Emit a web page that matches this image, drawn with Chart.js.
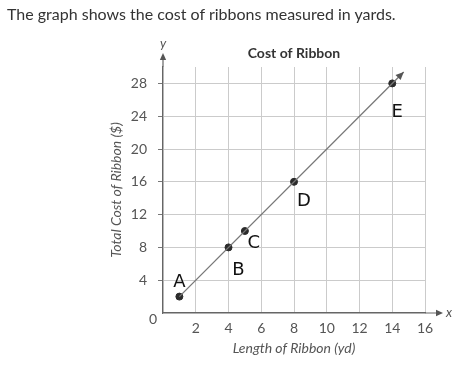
<!DOCTYPE html>
<html>
<head>
<meta charset="utf-8">
<title>Cost of Ribbon</title>
<script src="https://cdn.jsdelivr.net/npm/chart.js@4.4.1/dist/chart.umd.min.js"></script>
<style>
    html, body { margin: 0; padding: 0; background: #fff; }
    #wrap { position: relative; width: 467px; height: 370px; }
    #question {
        position: absolute; left: 7px; top: 4px;
        font: 16px Lato, "Open Sans", sans-serif; color: #333;
        white-space: nowrap;
    }
</style>
</head>
<body>
<div id="wrap">
    <canvas id="chart" width="467" height="370"></canvas>
    <div id="question">The graph shows the cost of ribbons measured in yards.</div>
</div>
<script>
// data
const pointNames = ['A', 'B', 'C', 'D', 'E'];
const lengthYd = [1, 4, 5, 8, 14];
const costDollars = [2, 8, 10, 16, 28];
// the ray drawn through the points (start, arrow tip)
const rayX = [1, 14.7];
const rayY = [2, 29.4];
// axis ticks
const xTicks = [0, 2, 4, 6, 8, 10, 12, 14, 16];
const yTicks = [0, 2, 4, 6, 8, 10, 12, 14, 16, 18, 20, 22, 24, 26, 28, 30];

const FONT = 'Lato, "Open Sans", sans-serif';
Chart.defaults.font.family = FONT;

// hand written letters, offset in px from their point
const letterOffset = { A: [0, -14], B: [10, 23], C: [9, 12], D: [10, 20], E: [5, 29] };

function arrowHead(ctx, x, y, angle, size) {
    ctx.save();
    ctx.translate(x, y);
    ctx.rotate(angle);
    ctx.beginPath();
    ctx.moveTo(0, 0);
    ctx.lineTo(-size, -size * 0.45);
    ctx.lineTo(-size, size * 0.45);
    ctx.closePath();
    ctx.fill();
    ctx.restore();
}

const decorPlugin = {
    id: 'decor',
    afterDatasetsDraw(chart) {
        const { ctx, chartArea: a, scales: { x, y } } = chart;
        ctx.save();

        // arrow at the end of the ray
        const x0 = x.getPixelForValue(rayX[0]), y0 = y.getPixelForValue(rayY[0]);
        const x1 = x.getPixelForValue(rayX[1]), y1 = y.getPixelForValue(rayY[1]);
        ctx.fillStyle = '#555';
        arrowHead(ctx, x1, y1, Math.atan2(y1 - y0, x1 - x0), 8);

        // axis extensions with arrows
        ctx.strokeStyle = '#666';
        ctx.fillStyle = '#555';
        ctx.lineWidth = 1.2;
        ctx.beginPath();
        ctx.moveTo(a.left, a.top);
        ctx.lineTo(a.left, a.top - 8);
        ctx.moveTo(a.right, a.bottom);
        ctx.lineTo(a.right + 12, a.bottom);
        ctx.stroke();
        arrowHead(ctx, a.left, a.top - 14, -Math.PI / 2, 7);
        arrowHead(ctx, a.right + 18, a.bottom, 0, 7);

        ctx.font = 'italic 13px ' + FONT;
        ctx.fillStyle = '#555';
        ctx.textAlign = 'center';
        ctx.textBaseline = 'middle';
        ctx.fillText('y', a.left, a.top - 23);
        ctx.fillText('x', a.right + 24, a.bottom);

        // shared origin label
        ctx.font = '14px ' + FONT;
        ctx.fillText('0', a.left - 10, a.bottom + 6);

        // chart title
        ctx.font = 'bold 14px ' + FONT;
        ctx.fillStyle = '#333';
        ctx.fillText('Cost of Ribbon', (a.left + a.right) / 2, a.top - 14);

        // letters next to the points
        ctx.font = '18px "DejaVu Sans", sans-serif';
        ctx.fillStyle = '#111';
        pointNames.forEach((name, i) => {
            const px = x.getPixelForValue(lengthYd[i]) + letterOffset[name][0];
            const py = y.getPixelForValue(costDollars[i]) + letterOffset[name][1];
            ctx.fillText(name, px, py);
        });
        ctx.restore();
    }
};

const ctx = document.getElementById('chart');
new Chart(ctx, {
    type: 'scatter',
    data: {
        datasets: [
            {
                label: 'ray',
                data: rayX.map((v, i) => ({ x: v, y: rayY[i] })),
                showLine: true,
                borderColor: '#777',
                borderWidth: 1.3,
                pointRadius: 0
            },
            {
                label: 'Cost',
                data: lengthYd.map((v, i) => ({ x: v, y: costDollars[i] })),
                pointRadius: 3.5,
                pointBackgroundColor: '#2b2b2b',
                pointBorderColor: '#2b2b2b'
            }
        ]
    },
    options: {
        responsive: false,
        animation: false,
        layout: { padding: { top: 67, right: 42, bottom: 0, left: 0 } },
        plugins: {
            legend: { display: false },
            tooltip: { enabled: false }
        },
        scales: {
            x: {
                type: 'linear',
                min: 0,
                max: 16,
                afterBuildTicks: s => { s.ticks = xTicks.map(v => ({ value: v })); },
                afterFit: s => { s.height = 57; },
                grid: { color: '#cbcbcb', lineWidth: 1, drawTicks: false },
                border: { color: '#666', width: 1.2 },
                ticks: {
                    padding: 7,
                    color: '#555',
                    font: { size: 14 },
                    callback: v => (v === 0 ? '' : v)
                },
                title: {
                    display: true,
                    text: 'Length of Ribbon (yd)',
                    color: '#555',
                    font: { size: 14, style: 'italic' },
                    padding: { top: 0, bottom: 13 }
                }
            },
            y: {
                min: 0,
                max: 30,
                afterBuildTicks: s => { s.ticks = yTicks.map(v => ({ value: v })); },
                afterFit: s => { s.width = 163; },
                grid: {
                    color: c => (c.tick.value % 4 === 0 || c.tick.value === 30 ? '#cbcbcb' : 'rgba(0,0,0,0)'),
                    tickColor: c => (c.tick.value === 0 || c.tick.value === 30 ? 'rgba(0,0,0,0)' : '#777'),
                    tickLength: 5
                },
                border: { color: '#666', width: 1.2 },
                ticks: {
                    padding: 11,
                    color: '#555',
                    font: { size: 14 },
                    callback: v => (v % 4 === 0 && v !== 0 && v !== 30 ? v : '')
                },
                title: {
                    display: true,
                    text: 'Total Cost of Ribbon ($)',
                    color: '#555',
                    font: { size: 14, style: 'italic' },
                    padding: { top: 108, bottom: 0 }
                }
            }
        }
    },
    plugins: [decorPlugin]
});
</script>
</body>
</html>
